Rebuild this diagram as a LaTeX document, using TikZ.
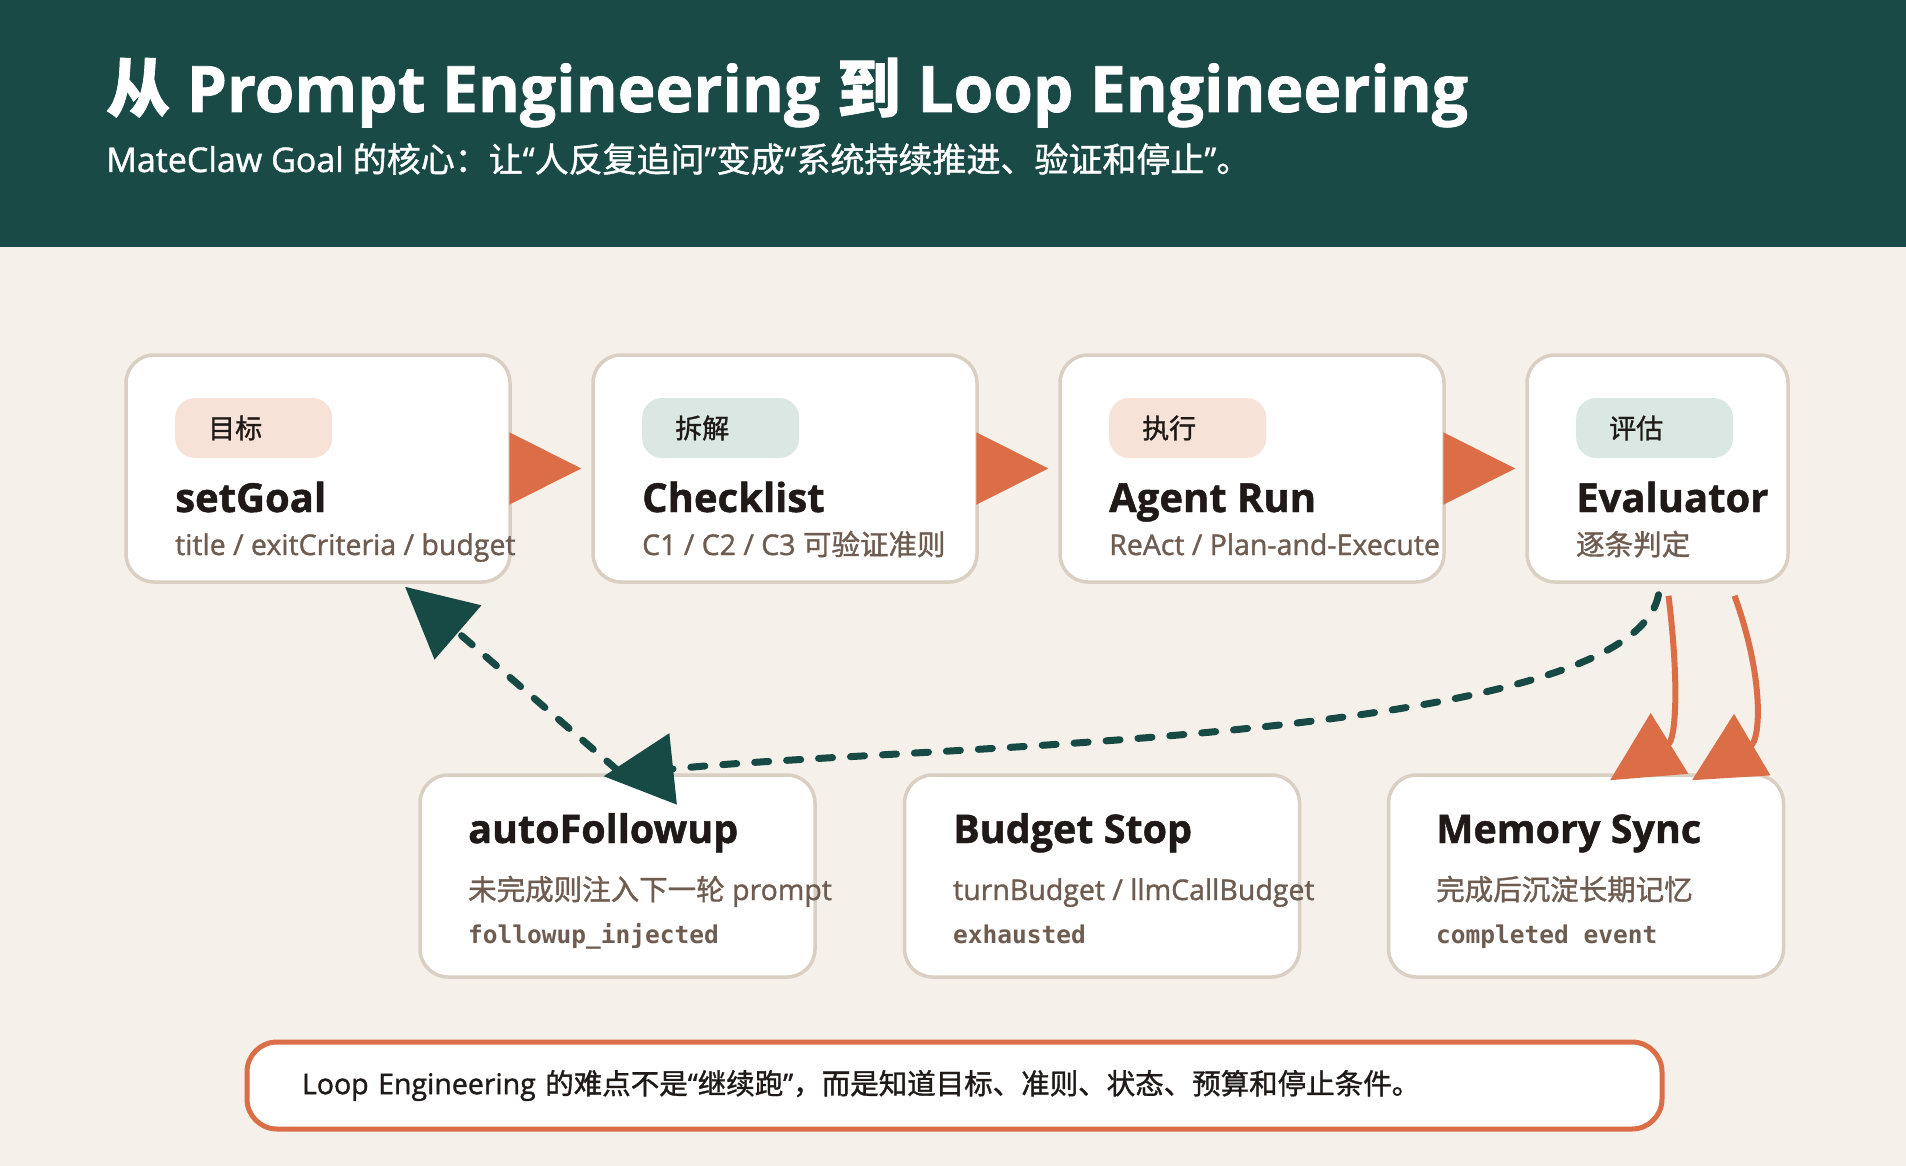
\documentclass[tikz,border=0pt]{standalone}
\usepackage{fontspec}
\setmainfont{Open Sans}[BoldFeatures={FakeBold=1.2}]
\setmonofont{DejaVu Sans Mono}
\newfontfamily\cjk{Noto Sans CJK SC}[BoldFeatures={FakeBold=1.0}]
\newfontfamily\semi{Open Sans}[FakeBold=1.2]
\newfontfamily\cjksemi{Noto Sans CJK SC}[FakeBold=1.2]
\usetikzlibrary{arrows.meta, positioning}

\definecolor{paper}{HTML}{F5F0EA}
\definecolor{band}{HTML}{1A4A45}
\definecolor{pine}{HTML}{174A44}
\definecolor{rust}{HTML}{DB6E47}
\definecolor{edge}{HTML}{D9CFC2}
\definecolor{ink}{HTML}{1F1A17}
\definecolor{muted}{HTML}{6E5C50}
\definecolor{peach}{HTML}{F7E2D8}
\definecolor{mint}{HTML}{DBE7E2}

\newcommand{\zh}[1]{{\cjk #1}}
\newcommand{\zhs}[1]{{\cjksemi #1}}
\newcommand{\fs}[1]{\fontsize{#1}{#1}\selectfont}

\begin{document}
\begin{tikzpicture}[
    x=1pt, y=-1pt,
    card/.style={draw=edge, line width=3.5pt, fill=white, rounded corners=28pt, inner sep=0pt},
    tag/.style={anchor=west, rounded corners=20pt, minimum height=60pt, text width=91pt,
                inner xsep=33pt, inner ysep=0pt, align=left, text=ink, font=\cjksemi\fs{27}},
    head/.style={anchor=base west, inner sep=0pt, text=ink, font=\bfseries\fs{40}},
    desc/.style={anchor=base west, inner sep=0pt, text=muted, font=\semi\fs{28.5}},
    mono/.style={anchor=base west, inner sep=0pt, text=muted, font=\ttfamily\bfseries\fs{24.5}},
    flow/.style={draw=rust, line width=2pt, -{Triangle[length=72pt, width=72pt]}, shorten >=10pt},
    retry/.style={draw=pine, line width=7pt, line cap=round, dash pattern=on 14pt off 18pt,
                -{Triangle[length=70pt, width=70pt]}},
    done/.style={draw=rust, line width=6pt, -{Triangle[length=70pt, width=70pt]}},
    note/.style={draw=rust, line width=5pt, fill=white, rounded corners=30pt,
                minimum width=1415pt, minimum height=87pt, text width=1305pt,
                inner xsep=55pt, align=left, text=ink, font=\semi\fs{28.5}}
]
    \path[use as bounding box, fill=paper] (0,0) rectangle (1906,1166);
    \fill[band] (0,0) rectangle (1906,247);

    % header
    \node[anchor=base west, inner sep=0pt, text=white, font=\bfseries\fs{64}] (title) at (106,112)
        {\zh{\bfseries 从} Prompt Engineering \zh{\bfseries 到} Loop Engineering};
    \node[anchor=base west, inner sep=0pt, text=white, font=\semi\fs{34}] (subtitle) at (106,172)
        {MateClaw Goal \zhs{的核心：让}“\zhs{人反复追问}”\zhs{变成}“\zhs{系统持续推进、验证和停止}”\zhs{。}};

    % top row
    \node[card, minimum width=384pt, minimum height=227pt] (goal)  at (318,468.5) {};
    \node[card, minimum width=384pt, minimum height=227pt] (check) at (785,468.5) {};
    \node[card, minimum width=384pt, minimum height=227pt] (run)   at (1252,468.5) {};
    \node[card, minimum width=261pt, minimum height=227pt] (eval)  at (1657.5,468.5) {};

    \node[tag, fill=peach] (goalTag)  at (175,428)  {目标};
    \node[tag, fill=mint]  (checkTag) at (642,428)  {拆解};
    \node[tag, fill=peach] (runTag)   at (1109,428) {执行};
    \node[tag, fill=mint]  (evalTag)  at (1576,428) {评估};

    \node[head] (goalHead)  at (175,512)  {setGoal};
    \node[head] (checkHead) at (642,512)  {Checklist};
    \node[head] (runHead)   at (1109,512) {Agent Run};
    \node[head] (evalHead)  at (1576,512) {Evaluator};

    \node[desc] (goalDesc)  at (175,555)  {title / exitCriteria / budget};
    \node[desc] (checkDesc) at (642,555)  {C1 / C2 / C3 \zhs{可验证准则}};
    \node[desc] (runDesc)   at (1109,555) {ReAct / Plan-and-Execute};
    \node[desc] (evalDesc)  at (1576,555) {\zhs{逐条判定}};

    % bottom row
    \node[card, minimum width=395pt, minimum height=202pt] (follow) at (617.5,876) {};
    \node[card, minimum width=395pt, minimum height=202pt] (budget) at (1102,876) {};
    \node[card, minimum width=395pt, minimum height=202pt] (sync)   at (1586,876) {};

    \node[head, font=\bfseries\fs{39.5}] (followHead) at (468,843)  {autoFollowup};
    \node[head, font=\bfseries\fs{39.5}] (budgetHead) at (953,843)  {Budget Stop};
    \node[head, font=\bfseries\fs{39.5}] (syncHead)   at (1436,843) {Memory Sync};

    \node[desc] (followDesc) at (468,900)  {\zhs{未完成则注入下一轮} prompt};
    \node[desc] (budgetDesc) at (953,900)  {turnBudget / llmCallBudget};
    \node[desc] (syncDesc)   at (1436,900) {\zhs{完成后沉淀长期记忆}};

    \node[mono] (followCode) at (468,943)  {followup\_injected};
    \node[mono] (budgetCode) at (953,943)  {exhausted};
    \node[mono] (syncCode)   at (1436,943) {completed event};

    % connectors
    \draw[flow] (goal.east)  -- (check.west);
    \draw[flow] (check.east) -- (run.west);
    \draw[flow] (run.east)   -- (eval.west);

    \draw[retry] ([shift={(0,-3)}]follow.north) -- ([shift={(87,3)}]goal.south);
    \draw[retry] ([shift={(1,11)}]eval.south) .. controls (1630,745) and (900,745) .. ([shift={(-14,3)}]follow.north);
    \draw[done] ([shift={(11,12)}]eval.south) .. controls (1680,690) and (1675,740) .. ([shift={(24,7)}]sync.north);
    \draw[done] ([shift={(77,12)}]eval.south) .. controls (1765,680) and (1760,740) .. ([shift={(106,7)}]sync.north);

    % takeaway
    \node[note] (moral) at (954.5,1085.5)
        {Loop Engineering \zhs{的难点不是}“\zhs{继续跑}”\zhs{，而是知道目标、准则、状态、预算和停止条件。}};
\end{tikzpicture}
\end{document}
